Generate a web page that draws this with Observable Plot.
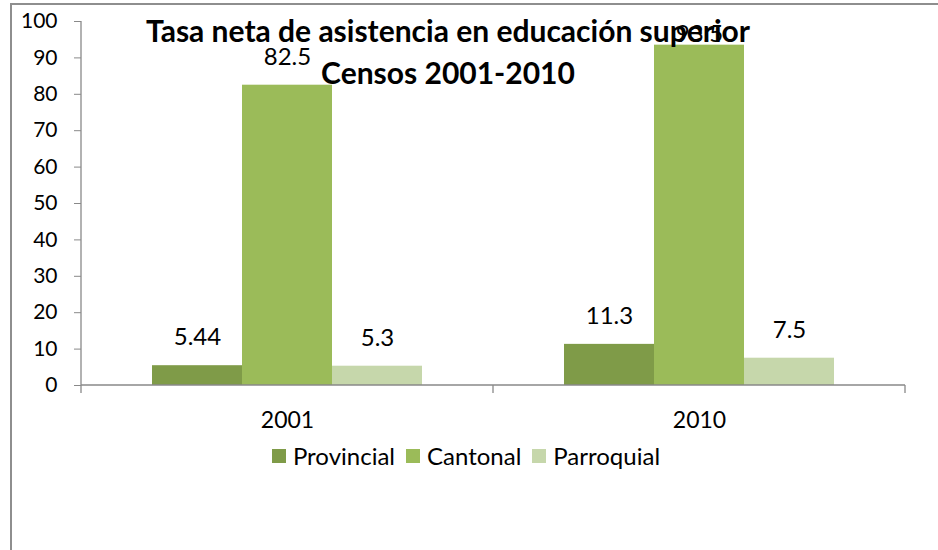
<!DOCTYPE html>
<html>
<head>
<meta charset="utf-8">
<script src="https://cdn.jsdelivr.net/npm/d3@7"></script>
<script src="https://cdn.jsdelivr.net/npm/@observablehq/plot@0.6"></script>
<style>
  body { margin: 0; background: #fff; font-family: Lato, "Noto Sans", sans-serif; }
  #wrap { position: relative; width: 938px; height: 550px; overflow: hidden; background: #fff; }
  #frame { position: absolute; left: 10px; top: 3px; width: 960px; height: 580px; border: 2px solid #8e8e8e; box-sizing: border-box; }
  #chart { position: absolute; left: 0; top: 0; }
  #title { position: absolute; left: 0; width: 896px; top: 9px; text-align: center; font-weight: bold; font-size: 30px; line-height: 42px; color: #000; }
  #legend { position: absolute; left: 0; width: 932px; top: 441px; display: flex; justify-content: center; align-items: center; font-size: 24px; color: #000; }
  .item { display: flex; align-items: center; margin: 0 5.5px; }
  .sw { width: 14px; height: 14px; margin-right: 7px; }
</style>
</head>
<body>
<div id="wrap">
  <div id="frame"></div>
  <div id="chart"></div>
  <div id="title">Tasa neta de asistencia en educación superior<br>Censos 2001-2010</div>
  <div id="legend"></div>
</div>
<script>
const years = ["2001", "2010"];
const seriesNames = ["Provincial", "Cantonal", "Parroquial"];
const provincial = [5.44, 11.3];
const cantonal = [82.5, 93.5];
const parroquial = [5.3, 7.5];
const seriesColors = ["#7F9B48", "#9BBB59", "#C6D7AB"];
const yTicks = [0, 10, 20, 30, 40, 50, 60, 70, 80, 90, 100];

const valuesBySeries = [provincial, cantonal, parroquial];
const data = years.flatMap((yr, i) =>
  seriesNames.map((s, j) => ({ year: yr, series: s, value: valuesBySeries[j][i] }))
);

const axisColor = "#898989";
const labelFont = 24;

const plot = Plot.plot({
  width: 938,
  height: 440,
  marginLeft: 80,
  marginRight: 33,
  marginTop: 21,
  marginBottom: 55,
  style: { fontFamily: "Lato, 'Noto Sans', sans-serif", fontSize: "21px", color: "#000", background: "transparent" },
  fx: { domain: years, padding: 0, label: null },
  x: { domain: seriesNames, axis: null, paddingInner: 0, paddingOuter: 0.766 },
  y: { domain: [0, 100], label: null },
  color: { domain: seriesNames, range: seriesColors },
  marks: [
    Plot.barY(data, { fx: "year", x: "series", y: "value", fill: "series" }),
    // labels above bars (Excel keeps labels inside the plot area near the top)
    Plot.text(data, { filter: d => d.value <= 90, fx: "year", x: "series", y: "value", text: d => String(d.value), dy: -28, fontSize: labelFont, fill: "#000" }),
    Plot.text(data, { filter: d => d.value > 90, fx: "year", x: "series", y: "value", text: d => String(d.value), dy: -11, fontSize: labelFont, fill: "#000" }),
    Plot.axisY({ ticks: yTicks, tickSize: 7, tickPadding: 17, stroke: axisColor, fill: "#000", label: null, fontSize: 21 }),
    Plot.axisFx({ anchor: "bottom", tickSize: 0, tickPadding: 26, label: null, fontSize: 23, fill: "#000" })
  ]
});

document.getElementById("chart").appendChild(plot);

// Axis lines drawn from the library's scales
const ys = plot.scale("y");
const fxs = plot.scale("fx");
const svg = d3.select(plot);
const y0 = ys.apply(0), y100 = ys.apply(100);
const left = fxs.apply(years[0]);
const right = fxs.apply(years[years.length - 1]) + fxs.bandwidth;
const g = svg.append("g").attr("stroke", axisColor).attr("stroke-width", 1.3);
g.append("line").attr("x1", left).attr("x2", left).attr("y1", y100).attr("y2", y0 + 8);
g.append("line").attr("x1", left).attr("x2", right).attr("y1", y0).attr("y2", y0);
years.forEach((yr, i) => {
  const xb = fxs.apply(yr) + fxs.bandwidth;
  g.append("line").attr("x1", xb).attr("x2", xb).attr("y1", y0).attr("y2", y0 + 8);
});

// Legend
const legend = document.getElementById("legend");
seriesNames.forEach((s, i) => {
  const it = document.createElement("div");
  it.className = "item";
  const sw = document.createElement("div");
  sw.className = "sw";
  sw.style.background = seriesColors[i];
  const t = document.createElement("span");
  t.textContent = s;
  it.appendChild(sw);
  it.appendChild(t);
  legend.appendChild(it);
});
</script>
</body>
</html>
